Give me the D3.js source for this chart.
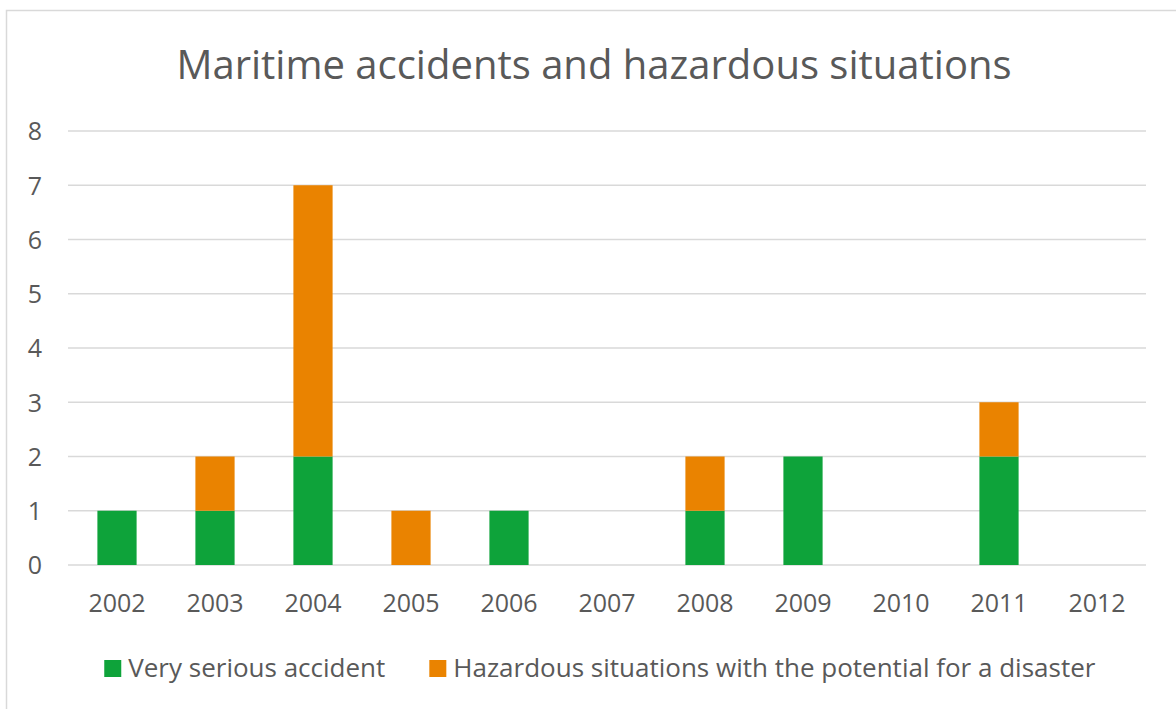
<!DOCTYPE html>
<html>
<head>
<meta charset="utf-8">
<script src="https://cdn.jsdelivr.net/npm/d3@7/dist/d3.min.js"></script>
<style>
  html, body { margin: 0; padding: 0; background: #fff; }
  svg { display: block; }
  text { font-family: "Open Sans", sans-serif; fill: #595959; }
</style>
</head>
<body>
<svg id="chart" width="1176" height="709"></svg>
<script>
const title = "Maritime accidents and hazardous situations";
const years = ["2002","2003","2004","2005","2006","2007","2008","2009","2010","2011","2012"];
const seriesNames = ["Very serious accident", "Hazardous situations with the potential for a disaster"];
const verySerious = [1, 1, 2, 0, 1, 0, 1, 2, 0, 2, 0];
const hazardous   = [0, 1, 5, 1, 0, 0, 1, 0, 0, 1, 0];
const yTicks = [0, 1, 2, 3, 4, 5, 6, 7, 8];
const colors = ["#0ea33a", "#ea8300"];

const svg = d3.select("#chart");

// chart frame
svg.append("rect")
  .attr("x", 6.5).attr("y", 10.5)
  .attr("width", 1180).attr("height", 720)
  .attr("fill", "#fff").attr("stroke", "#d9d9d9").attr("stroke-width", 1.5);

const plot = { left: 68, right: 1146, top: 131, bottom: 565 };

const x = d3.scaleBand().domain(years)
  .range([plot.left, plot.right])
  .paddingInner(0.6).paddingOuter(0.3);
const y = d3.scaleLinear().domain([0, 8]).range([plot.bottom, plot.top]);

// gridlines
svg.append("g").selectAll("line").data(yTicks).join("line")
  .attr("x1", plot.left).attr("x2", plot.right)
  .attr("y1", d => y(d)).attr("y2", d => y(d))
  .attr("stroke", "#d9d9d9").attr("stroke-width", 1.5);

// y axis labels
const yAxis = d3.axisLeft(y).tickValues(yTicks).tickSize(0).tickPadding(0).tickFormat(d3.format("d"));
const gy = svg.append("g").attr("transform", `translate(42,0)`).call(yAxis);
gy.select(".domain").remove();
gy.selectAll("text")
  .attr("font-family", "'Open Sans', sans-serif")
  .attr("font-size", 25).attr("fill", "#595959")
  .attr("dy", "0.35em");

// stacked bars
const rows = years.map((yr, i) => ({ year: yr, a: verySerious[i], b: hazardous[i] }));
const stack = d3.stack().keys(["a", "b"])(rows);
svg.append("g").selectAll("g").data(stack).join("g")
  .attr("fill", (d, i) => colors[i])
  .selectAll("rect").data(d => d.filter(s => s[1] - s[0] > 0)).join("rect")
  .attr("x", d => x(d.data.year))
  .attr("width", x.bandwidth())
  .attr("y", d => y(d[1]))
  .attr("height", d => y(d[0]) - y(d[1]));

// x axis labels
const xAxis = d3.axisBottom(x).tickSize(0).tickPadding(0);
const gx = svg.append("g").attr("transform", `translate(0,612)`).call(xAxis);
gx.select(".domain").remove();
gx.selectAll("text")
  .attr("font-family", "'Open Sans', sans-serif")
  .attr("font-size", 25).attr("fill", "#595959")
  .attr("dy", 0).attr("y", 0);

// title
svg.append("text")
  .attr("x", 594).attr("y", 79)
  .attr("text-anchor", "middle")
  .attr("font-size", 40)
  .text(title);

// legend
const leg = svg.append("g");
const items = leg.selectAll("g").data(seriesNames).join("g");
items.append("rect").attr("width", 17).attr("height", 17).attr("y", -17)
  .attr("fill", (d, i) => colors[i]);
items.append("text").attr("x", 24).attr("y", 0)
  .attr("font-size", 26).text(d => d);
let cx = 0;
items.each(function() {
  const w = this.getBBox().width;
  d3.select(this).attr("transform", `translate(${cx},677)`);
  cx += w + 44;
});
const total = cx - 44;
leg.attr("transform", `translate(${600 - total / 2},0)`);
</script>
</body>
</html>
